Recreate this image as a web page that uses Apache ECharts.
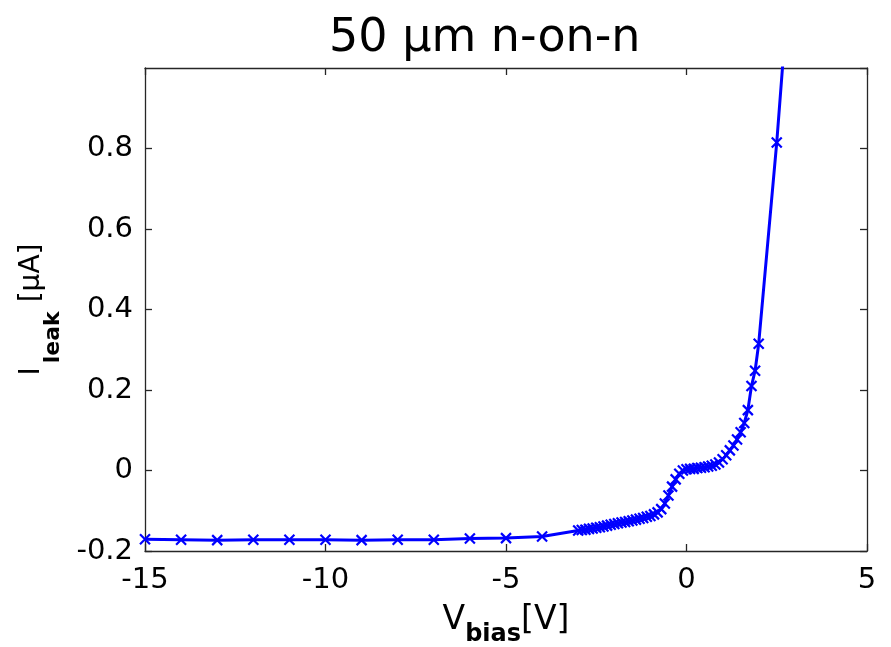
<!DOCTYPE html>
<html>
<head>
<meta charset="utf-8">
<script src="https://cdn.jsdelivr.net/npm/echarts@6/dist/echarts.min.js"></script>
<style>html,body{margin:0;padding:0;background:#fff}#c{width:891px;height:647px}</style>
</head>
<body>
<div id="c"></div>
<script>
const titleText = '50 µm n-on-n';
const vbias = [-15,-14,-13,-12,-11,-10,-9,-8,-7,-6,-5,-4,
  -3.0,-2.9,-2.8,-2.7,-2.6,-2.5,-2.4,-2.3,-2.2,-2.1,-2.0,-1.9,-1.8,-1.7,-1.6,-1.5,-1.4,-1.3,-1.2,-1.1,
  -1.0,-0.9,-0.8,-0.7,-0.6,-0.5,-0.4,-0.3,-0.2,-0.1,0.0,0.1,0.2,0.3,0.4,0.5,0.6,0.7,0.8,0.9,
  1.0,1.1,1.2,1.3,1.4,1.5,1.6,1.7,1.8,1.9,2.0,2.5,3.0];
const ileak = [-0.171,-0.172,-0.173,-0.172,-0.172,-0.172,-0.173,-0.172,-0.172,-0.169,-0.168,-0.164,
  -0.149,-0.148,-0.147,-0.145,-0.144,-0.142,-0.141,-0.139,-0.137,-0.135,-0.133,-0.131,-0.129,-0.128,-0.126,-0.124,-0.122,-0.120,-0.118,-0.115,
  -0.113,-0.109,-0.104,-0.096,-0.082,-0.062,-0.040,-0.022,-0.008,0.000,0.003,0.004,0.004,0.006,0.007,0.008,0.010,0.012,0.015,0.020,
  0.028,0.038,0.050,0.062,0.077,0.095,0.118,0.150,0.210,0.248,0.315,0.815,1.40];
const xTicks = [-15,-10,-5,0,5];
const yTicks = [-0.2,0,0.2,0.4,0.6,0.8];

const font = '"DejaVu Sans", Verdana, sans-serif';
const axisCommon = {
  axisLine: {show: true, onZero: false, lineStyle: {color: '#262626', width: 1.3}},
  axisTick: {show: true, inside: true, length: 7, lineStyle: {color: '#262626', width: 1.3}},
  splitLine: {show: false}
};
const chart = echarts.init(document.getElementById('c'));
chart.setOption({
  animation: false,
  backgroundColor: '#fff',
  title: {
    text: titleText, left: 324, top: 11,
    textStyle: {fontFamily: font, fontSize: 46, fontWeight: 'normal', color: '#000'}
  },
  grid: {left: 145, right: 24, top: 68, bottom: 96, containLabel: false, outerBoundsMode: 'none'},
  xAxis: [
    Object.assign({
      type: 'value', min: xTicks[0], max: xTicks[xTicks.length-1], interval: 5,
      name: '{v|V}{s|bias}{v|[V]}', nameLocation: 'middle', nameGap: 42,
      nameTextStyle: {rich: {
        v: {fontFamily: font, fontSize: 33, color: '#000', verticalAlign: 'middle'},
        s: {fontFamily: font, fontSize: 24, fontWeight: 'bold', color: '#000', verticalAlign: 'middle', padding: [30,0,0,0]}
      }},
      axisLabel: {fontFamily: font, fontSize: 29, color: '#000', margin: 15}
    }, axisCommon),
    Object.assign({
      type: 'value', position: 'top', min: xTicks[0], max: xTicks[xTicks.length-1], interval: 5,
      axisLabel: {show: false}
    }, axisCommon)
  ],
  yAxis: [
    Object.assign({
      type: 'value', min: yTicks[0], max: 1.0, interval: 0.2,
      name: '{v|I}{s|leak}{v| [µA]}', nameLocation: 'middle', nameGap: 81, nameRotate: 90,
      nameTextStyle: {rich: {
        v: {fontFamily: font, fontSize: 28, color: '#000', verticalAlign: 'middle'},
        s: {fontFamily: font, fontSize: 22, fontWeight: 'bold', color: '#000', verticalAlign: 'middle', padding: [43,0,0,4]}
      }},
      axisLabel: {fontFamily: font, fontSize: 29, color: '#000', margin: 12, showMaxLabel: false,
        formatter: function(v){ return yTicks.some(t => Math.abs(t - v) < 1e-9) ? String(Math.round(v*10)/10) : ''; }}
    }, axisCommon),
    Object.assign({
      type: 'value', position: 'right', min: yTicks[0], max: 1.0, interval: 0.2,
      axisLabel: {show: false}
    }, axisCommon)
  ],
  series: [{
    type: 'line',
    data: vbias.map((v, i) => [v, ileak[i]]),
    clip: true,
    lineStyle: {color: '#0000ff', width: 3},
    symbol: 'path://M0,0L10,10M10,0L0,10',
    symbolSize: 10,
    showAllSymbol: true,
    itemStyle: {color: '#0000ff', borderColor: '#0000ff', borderWidth: 2.2}
  }]
});
</script>
</body>
</html>
